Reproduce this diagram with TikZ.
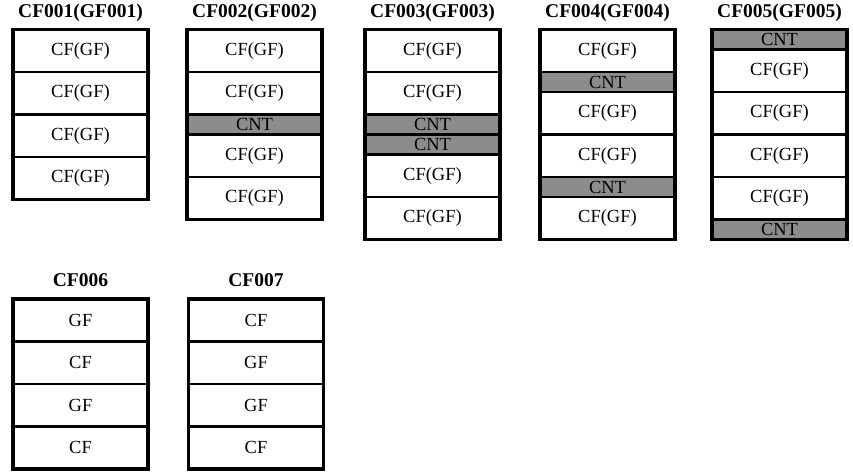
\documentclass[tikz,border=0pt]{standalone}
\usepackage{fontspec}
\setmainfont{Liberation Serif}
\usetikzlibrary{positioning}
\definecolor{cntgray}{RGB}{140,140,140}
\tikzset{
  layer/.style={draw, line width=2.6pt, minimum width=135pt, minimum height=42.5pt,
    inner sep=0pt, outer sep=0pt, font=\fontsize{18.5}{20}\selectfont},
  cnt/.style={layer, fill=cntgray, minimum height=20pt},
  frame/.style={line width=3.4pt},
  title/.style={anchor=base, font=\fontsize{19.5}{22}\selectfont\bfseries}
}
\begin{document}
\begin{tikzpicture}[x=1pt, y=1pt]
  \useasboundingbox (0,0) rectangle (853,-473);

  % titles
  \node[title] (t1) at (80.5,-17.5) {CF001(GF001)};
  \node[title] (t2) at (254.5,-17.5) {CF002(GF002)};
  \node[title] (t3) at (432.5,-17.5) {CF003(GF003)};
  \node[title] (t4) at (607.5,-17.5) {CF004(GF004)};
  \node[title] (t5) at (779.5,-17.5) {CF005(GF005)};
  \node[title] (t6) at (80.5,-286) {CF006};
  \node[title] (t7) at (256,-286) {CF007};

  % CF001
  \node[layer, anchor=north] (a1) at (80.5,-29.5) {CF(GF)};
  \node[layer, below=0pt of a1] (a2) {CF(GF)};
  \node[layer, below=0pt of a2] (a3) {CF(GF)};
  \node[layer, below=0pt of a3] (a4) {CF(GF)};
  \draw[frame] (a1.north west) rectangle (a4.south east);

  % CF002
  \node[layer, anchor=north] (b1) at (254.5,-29.5) {CF(GF)};
  \node[layer, below=0pt of b1] (b2) {CF(GF)};
  \node[cnt, below=0pt of b2] (b3) {CNT};
  \node[layer, below=0pt of b3] (b4) {CF(GF)};
  \node[layer, below=0pt of b4] (b5) {CF(GF)};
  \draw[frame] (b1.north west) rectangle (b5.south east);

  % CF003
  \node[layer, anchor=north] (c1) at (432.5,-29.5) {CF(GF)};
  \node[layer, below=0pt of c1] (c2) {CF(GF)};
  \node[cnt, below=0pt of c2] (c3) {CNT};
  \node[cnt, below=0pt of c3] (c4) {CNT};
  \node[layer, below=0pt of c4] (c5) {CF(GF)};
  \node[layer, below=0pt of c5] (c6) {CF(GF)};
  \draw[frame] (c1.north west) rectangle (c6.south east);

  % CF004
  \node[layer, anchor=north] (d1) at (607.5,-29.5) {CF(GF)};
  \node[cnt, below=0pt of d1] (d2) {CNT};
  \node[layer, below=0pt of d2] (d3) {CF(GF)};
  \node[layer, below=0pt of d3] (d4) {CF(GF)};
  \node[cnt, below=0pt of d4] (d5) {CNT};
  \node[layer, below=0pt of d5] (d6) {CF(GF)};
  \draw[frame] (d1.north west) rectangle (d6.south east);

  % CF005
  \node[cnt, anchor=north] (e1) at (779.5,-29.5) {CNT};
  \node[layer, below=0pt of e1] (e2) {CF(GF)};
  \node[layer, below=0pt of e2] (e3) {CF(GF)};
  \node[layer, below=0pt of e3] (e4) {CF(GF)};
  \node[layer, below=0pt of e4] (e5) {CF(GF)};
  \node[cnt, below=0pt of e5] (e6) {CNT};
  \draw[frame] (e1.north west) rectangle (e6.south east);

  % CF006
  \node[layer, anchor=north] (f1) at (80.5,-299) {GF};
  \node[layer, below=0pt of f1] (f2) {CF};
  \node[layer, below=0pt of f2] (f3) {GF};
  \node[layer, below=0pt of f3] (f4) {CF};
  \draw[frame] (f1.north west) rectangle (f4.south east);

  % CF007
  \node[layer, anchor=north] (g1) at (256,-299) {CF};
  \node[layer, below=0pt of g1] (g2) {GF};
  \node[layer, below=0pt of g2] (g3) {GF};
  \node[layer, below=0pt of g3] (g4) {CF};
  \draw[frame] (g1.north west) rectangle (g4.south east);
\end{tikzpicture}
\end{document}
